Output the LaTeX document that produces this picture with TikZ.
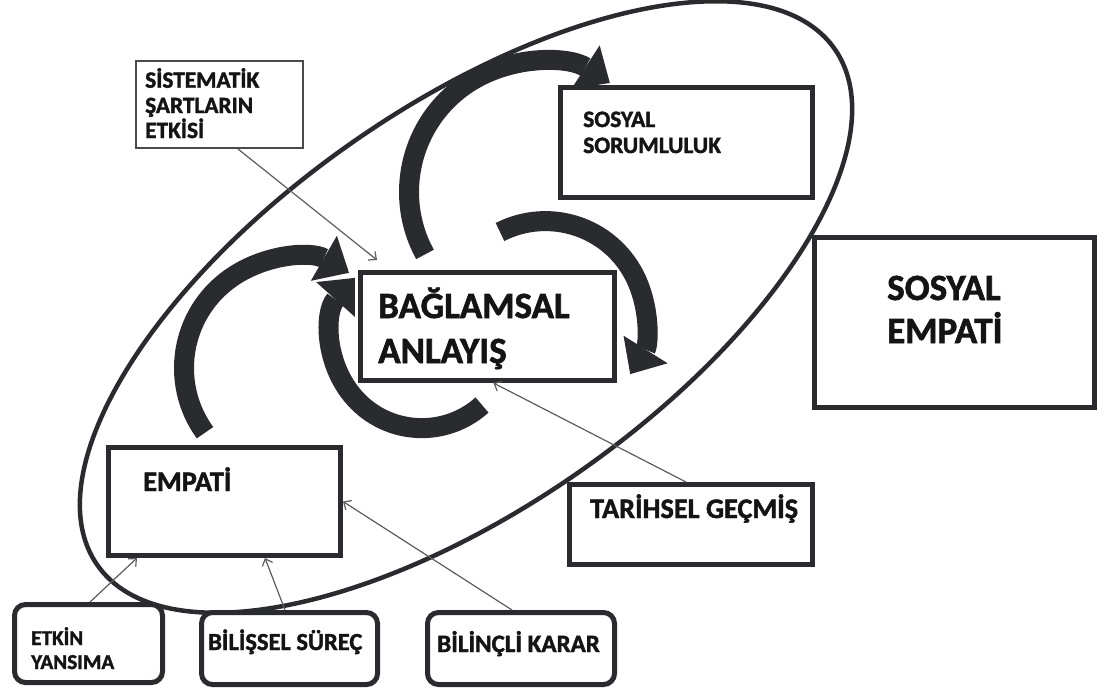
\documentclass[tikz,border=0pt]{standalone}
\usepackage{fontspec}
\setmainfont{Carlito}[BoldFeatures={FakeBold=1.6}]
\usetikzlibrary{arrows.meta}
\definecolor{ink}{HTML}{2A2B2F}
\definecolor{txt}{HTML}{141414}
\definecolor{thinline}{HTML}{5C5C5C}
\begin{document}
\begin{tikzpicture}[x=1pt,y=-1pt,
  box/.style={draw=ink, line width=5pt, fill=white, rectangle, inner sep=0pt},
  rbox/.style={box, rounded corners=11pt},
  notebox/.style={draw=thinline!80!black, line width=2pt, fill=white, rectangle, inner sep=0pt},
  lbl/.style={anchor=base west, inner sep=0pt, text=txt, font=\fontsize{#1}{#1}\selectfont\bfseries},
  bigarrow/.style={draw=ink, line width=20pt,
    -{Triangle[length=29pt,width=52pt,line width=0pt]}},
  haloarrow/.style={bigarrow, preaction={draw=white, line width=25pt,
    -{Triangle[length=33pt,width=60pt,line width=0pt]}}},
  thinarrow/.style={draw=thinline, line width=1.2pt,
    -{Straight Barb[length=6pt,width=11pt]}}]
\useasboundingbox (0,0) rectangle (1107,691);

% the large tilted ellipse
\draw[ink, line width=4.5pt, rotate around={35:(466,307)}]
  (466,307) ellipse [x radius=450, y radius=200];

% four curved cycle arrows around the central box
\coordinate (tA) at (425,254.4);
\coordinate (tB) at (500,232);
\coordinate (tC) at (482,405);
\coordinate (tD) at (205,432.7);
\draw[bigarrow] (tA) arc[start angle=151.3, end angle=303, radius=130];
\draw[bigarrow] (tB) arc[start angle=-117, end angle=32, radius=100];
\draw[bigarrow] (tC) arc[start angle=48, end angle=222, radius=90];
\draw[haloarrow] (tD) arc[start angle=144, end angle=300, radius=110];

% boxes
\node[notebox, minimum width=167pt, minimum height=87pt] (sist) at (219.5,104.5) {};
\node[box, minimum width=252pt, minimum height=110pt] (sor) at (686.5,142.5) {};
\node[box, minimum width=254pt, minimum height=108pt] (bag) at (487.5,326.5) {};
\node[box, minimum width=280pt, minimum height=170pt] (semp) at (954.5,322.5) {};
\node[box, minimum width=232pt, minimum height=108pt] (emp) at (224.5,501.5) {};
\node[box, minimum width=243pt, minimum height=80pt] (tar) at (691,524.5) {};
\node[rbox, minimum width=148pt, minimum height=78pt] (etk) at (88.5,643.5) {};
\node[rbox, minimum width=176pt, minimum height=72pt] (bil) at (289.5,648.5) {};
\node[rbox, minimum width=187pt, minimum height=72pt] (bilk) at (521,648.5) {};

% texts
\node[lbl=23.3] (sist1) at (145,87.7) {SİSTEMATİK};
\node[lbl=23.3] (sist2) at (145,113) {ŞARTLARIN};
\node[lbl=23.3] (sist3) at (145,138) {ETKİSİ};
\node[lbl=23.5] (sor1) at (583,127) {SOSYAL};
\node[lbl=23.5] (sor2) at (583,153) {SORUMLULUK};
\node[lbl=37] (bag1) at (378,318) {BAĞLAMSAL};
\node[lbl=37] (bag2) at (378,363) {ANLAYIŞ};
\node[lbl=37] (semp1) at (887,300) {SOSYAL};
\node[lbl=37] (semp2) at (887,343) {EMPATİ};
\node[lbl=28.3] (emp1) at (143,491) {EMPATİ};
\node[lbl=28.3] (tar1) at (590,518) {TARİHSEL GEÇMİŞ};
\node[lbl=21.2] (etk1) at (31,645) {ETKİN};
\node[lbl=21.2] (etk2) at (31,669) {YANSIMA};
\node[lbl=24.5] (bil1) at (208,650) {BİLİŞSEL SÜREÇ};
\node[lbl=25] (bilk1) at (437,652) {BİLİNÇLİ KARAR};

% thin influence arrows
\draw[thinarrow] ([xshift=18.5pt]sist.south) -- ([xshift=19pt,yshift=10pt]bag.north west);
\draw[thinarrow] ([xshift=1.5pt]etk.north) -- ([xshift=-87.5pt]emp.south);
\draw[thinarrow] ([xshift=-4.5pt]bil.north) -- ([xshift=40.5pt]emp.south);
\draw[thinarrow] ([xshift=-9pt]bilk.north) -- (emp.east);
\draw[thinarrow] ([xshift=-5pt]tar.north) -- ([xshift=6pt]bag.south);
\end{tikzpicture}
\end{document}
